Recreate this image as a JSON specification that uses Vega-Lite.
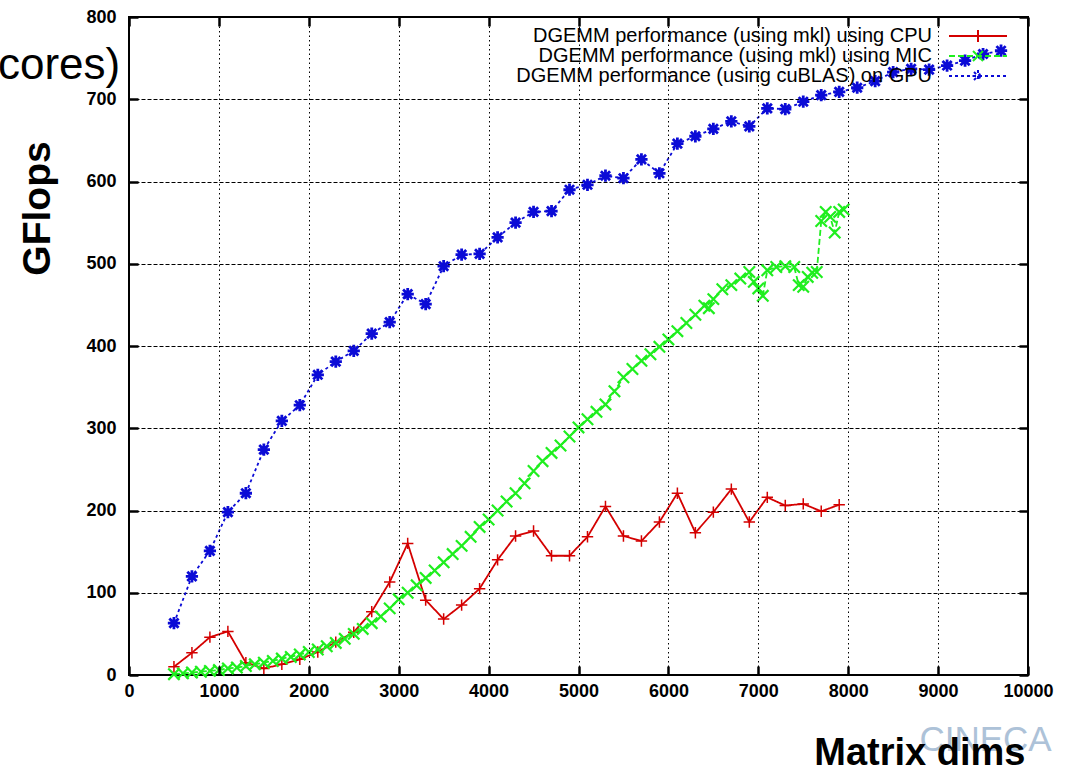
{
  "$schema": "https://vega.github.io/schema/vega-lite/v6.json",
  "width": 899,
  "height": 658,
  "autosize": {"type": "none"},
  "padding": {"left": 129, "top": 17, "right": 38, "bottom": 103},
  "background": "white",
  "title": {"text": "cores)", "anchor": "start", "frame": "group", "orient": "top", "offset": 0, "dx": -131, "dy": 115, "baseline": "alphabetic", "font": "Liberation Sans", "fontSize": 44, "fontWeight": "normal", "color": "black"},
  "config": {
    "view": {"stroke": "black", "strokeWidth": 2},
    "font": "Liberation Sans",
    "legend": {"orient": "none", "legendX": 839, "legendY": 9, "direction": "vertical", "padding": 0, "rowPadding": 0, "labelAlign": "right", "labelOffset": -56, "labelFont": "Liberation Sans", "labelFontSize": 20, "labelColor": "black", "labelLimit": 600, "symbolSize": 100, "symbolStrokeWidth": 2, "symbolOpacity": 1, "symbolFillColor": "transparent"}
  },
  "data": {"values": [
    {"s":"CPU","x":500,"y":10},{"s":"CPU","x":700,"y":27},{"s":"CPU","x":900,"y":46},{"s":"CPU","x":1100,"y":53},{"s":"CPU","x":1300,"y":15},{"s":"CPU","x":1500,"y":8},{"s":"CPU","x":1700,"y":13},{"s":"CPU","x":1900,"y":19},{"s":"CPU","x":2100,"y":28},{"s":"CPU","x":2300,"y":40},{"s":"CPU","x":2500,"y":52},{"s":"CPU","x":2700,"y":77},{"s":"CPU","x":2900,"y":113},{"s":"CPU","x":3100,"y":160},{"s":"CPU","x":3300,"y":91},{"s":"CPU","x":3500,"y":68},{"s":"CPU","x":3700,"y":85},{"s":"CPU","x":3900,"y":105},{"s":"CPU","x":4100,"y":140},{"s":"CPU","x":4300,"y":169},{"s":"CPU","x":4500,"y":175},{"s":"CPU","x":4700,"y":145},{"s":"CPU","x":4900,"y":145},{"s":"CPU","x":5100,"y":168},{"s":"CPU","x":5300,"y":205},{"s":"CPU","x":5500,"y":169},{"s":"CPU","x":5700,"y":163},{"s":"CPU","x":5900,"y":186},{"s":"CPU","x":6100,"y":221},{"s":"CPU","x":6300,"y":173},{"s":"CPU","x":6500,"y":198},{"s":"CPU","x":6700,"y":226},{"s":"CPU","x":6900,"y":186},{"s":"CPU","x":7100,"y":216},{"s":"CPU","x":7300,"y":206},{"s":"CPU","x":7500,"y":208},{"s":"CPU","x":7700,"y":199},{"s":"CPU","x":7900,"y":207},
    {"s":"GPU","x":500,"y":63},{"s":"GPU","x":700,"y":120},{"s":"GPU","x":900,"y":151},{"s":"GPU","x":1100,"y":198},{"s":"GPU","x":1300,"y":221},{"s":"GPU","x":1500,"y":274},{"s":"GPU","x":1700,"y":309},{"s":"GPU","x":1900,"y":328},{"s":"GPU","x":2100,"y":365},{"s":"GPU","x":2300,"y":381},{"s":"GPU","x":2500,"y":394},{"s":"GPU","x":2700,"y":415},{"s":"GPU","x":2900,"y":429},{"s":"GPU","x":3100,"y":463},{"s":"GPU","x":3300,"y":451},{"s":"GPU","x":3500,"y":497},{"s":"GPU","x":3700,"y":511},{"s":"GPU","x":3900,"y":512},{"s":"GPU","x":4100,"y":532},{"s":"GPU","x":4300,"y":550},{"s":"GPU","x":4500,"y":563},{"s":"GPU","x":4700,"y":564},{"s":"GPU","x":4900,"y":590},{"s":"GPU","x":5100,"y":596},{"s":"GPU","x":5300,"y":607},{"s":"GPU","x":5500,"y":604},{"s":"GPU","x":5700,"y":627},{"s":"GPU","x":5900,"y":610},{"s":"GPU","x":6100,"y":646},{"s":"GPU","x":6300,"y":655},{"s":"GPU","x":6500,"y":664},{"s":"GPU","x":6700,"y":673},{"s":"GPU","x":6900,"y":667},{"s":"GPU","x":7100,"y":689},{"s":"GPU","x":7300,"y":688},{"s":"GPU","x":7500,"y":697},{"s":"GPU","x":7700,"y":705},{"s":"GPU","x":7900,"y":709},{"s":"GPU","x":8100,"y":714},{"s":"GPU","x":8300,"y":722},{"s":"GPU","x":8500,"y":733},{"s":"GPU","x":8700,"y":737},{"s":"GPU","x":8900,"y":736},{"s":"GPU","x":9100,"y":741},{"s":"GPU","x":9300,"y":747},{"s":"GPU","x":9500,"y":755},{"s":"GPU","x":9700,"y":759},
    {"s":"MIC","x":500,"y":1},{"s":"MIC","x":600,"y":2},{"s":"MIC","x":700,"y":3},{"s":"MIC","x":800,"y":4},{"s":"MIC","x":900,"y":5},{"s":"MIC","x":1000,"y":6},{"s":"MIC","x":1100,"y":8},{"s":"MIC","x":1200,"y":9},{"s":"MIC","x":1300,"y":11},{"s":"MIC","x":1400,"y":13},{"s":"MIC","x":1500,"y":15},{"s":"MIC","x":1600,"y":17},{"s":"MIC","x":1700,"y":20},{"s":"MIC","x":1800,"y":22},{"s":"MIC","x":1900,"y":25},{"s":"MIC","x":2000,"y":28},{"s":"MIC","x":2100,"y":31},{"s":"MIC","x":2200,"y":35},{"s":"MIC","x":2300,"y":39},{"s":"MIC","x":2400,"y":44},{"s":"MIC","x":2500,"y":50},{"s":"MIC","x":2600,"y":56},{"s":"MIC","x":2700,"y":63},{"s":"MIC","x":2800,"y":71},{"s":"MIC","x":2900,"y":81},{"s":"MIC","x":3000,"y":92},{"s":"MIC","x":3100,"y":100},{"s":"MIC","x":3200,"y":109},{"s":"MIC","x":3300,"y":118},{"s":"MIC","x":3400,"y":127},{"s":"MIC","x":3500,"y":137},{"s":"MIC","x":3600,"y":147},{"s":"MIC","x":3700,"y":157},{"s":"MIC","x":3800,"y":168},{"s":"MIC","x":3900,"y":180},{"s":"MIC","x":4000,"y":189},{"s":"MIC","x":4100,"y":200},{"s":"MIC","x":4200,"y":211},{"s":"MIC","x":4300,"y":221},{"s":"MIC","x":4400,"y":233},{"s":"MIC","x":4500,"y":248},{"s":"MIC","x":4600,"y":260},{"s":"MIC","x":4700,"y":270},{"s":"MIC","x":4800,"y":279},{"s":"MIC","x":4900,"y":290},{"s":"MIC","x":5000,"y":301},{"s":"MIC","x":5100,"y":311},{"s":"MIC","x":5200,"y":320},{"s":"MIC","x":5300,"y":329},{"s":"MIC","x":5400,"y":345},{"s":"MIC","x":5500,"y":362},{"s":"MIC","x":5600,"y":372},{"s":"MIC","x":5700,"y":382},{"s":"MIC","x":5800,"y":390},{"s":"MIC","x":5900,"y":399},{"s":"MIC","x":6000,"y":408},{"s":"MIC","x":6100,"y":418},{"s":"MIC","x":6200,"y":428},{"s":"MIC","x":6300,"y":438},{"s":"MIC","x":6400,"y":449},{"s":"MIC","x":6450,"y":446},{"s":"MIC","x":6500,"y":457},{"s":"MIC","x":6600,"y":469},{"s":"MIC","x":6700,"y":474},{"s":"MIC","x":6800,"y":482},{"s":"MIC","x":6900,"y":490},{"s":"MIC","x":6950,"y":478},{"s":"MIC","x":7000,"y":470},{"s":"MIC","x":7050,"y":461},{"s":"MIC","x":7100,"y":492},{"s":"MIC","x":7200,"y":496},{"s":"MIC","x":7300,"y":497},{"s":"MIC","x":7400,"y":496},{"s":"MIC","x":7450,"y":474},{"s":"MIC","x":7500,"y":472},{"s":"MIC","x":7550,"y":484},{"s":"MIC","x":7600,"y":489},{"s":"MIC","x":7650,"y":490},{"s":"MIC","x":7700,"y":552},{"s":"MIC","x":7750,"y":563},{"s":"MIC","x":7800,"y":557},{"s":"MIC","x":7850,"y":538},{"s":"MIC","x":7900,"y":563},{"s":"MIC","x":7950,"y":566}
  ]},
  "layer": [
    {
      "mark": {"type": "line", "strokeWidth": 1.8},
      "encoding": {
        "x": {"field": "x", "type": "quantitative", "scale": {"domain": [0, 10000], "nice": false, "zero": false},
          "axis": {"orient": "bottom", "values": [0,1000,2000,3000,4000,5000,6000,7000,8000,9000,10000], "format": "d", "grid": true, "gridColor": "black", "gridDash": [1.5, 3], "gridWidth": 1, "gridOpacity": 1, "domain": false, "tickSize": -9, "tickWidth": 2.5, "tickColor": "black", "labelPadding": 16, "labelFont": "Liberation Sans", "labelFontSize": 18, "labelFontWeight": "bold", "labelColor": "black", "labelFlush": false, "labelOverlap": false, "title": "Matrix dims", "titleX": 896, "titleY": 89, "titleAlign": "right", "titleAnchor": null, "titleBaseline": "alphabetic", "titleFont": "Liberation Sans", "titleFontSize": 38, "titleFontWeight": "bold", "titleColor": "black", "zindex": 2}},
        "y": {"field": "y", "type": "quantitative", "scale": {"domain": [0, 800], "nice": false},
          "axis": {"orient": "left", "values": [0,100,200,300,400,500,600,700,800], "format": "d", "grid": true, "gridColor": "black", "gridDash": [4, 2], "gridWidth": 1, "gridOpacity": 1, "domain": false, "tickSize": -9, "tickWidth": 2.5, "tickColor": "black", "labelPadding": 22, "labelFont": "Liberation Sans", "labelFontSize": 18, "labelFontWeight": "bold", "labelColor": "black", "labelFlush": false, "labelOverlap": false, "title": "GFlops", "titleX": -80, "titleY": 191, "titleAngle": 270, "titleAlign": "center", "titleBaseline": "alphabetic", "titleFont": "Liberation Sans", "titleFontSize": 39, "titleFontWeight": "bold", "titleColor": "black"}},
        "color": {"field": "s", "type": "nominal", "scale": {"domain": ["CPU", "MIC", "GPU"], "range": ["#d40000", "#1fee1f", "#0b0bd6"]}},
        "strokeDash": {"field": "s", "type": "nominal", "scale": {"domain": ["CPU", "MIC", "GPU"], "range": [[1, 0], [6, 3], [3, 3]]}}
      }
    },
    {
      "transform": [{"filter": "datum.s == 'CPU'"}],
      "mark": {"type": "point", "filled": false, "opacity": 1, "shape": "M-1,0L1,0M0,-1L0,1", "size": 130, "strokeWidth": 1.5},
      "encoding": {
        "x": {"field": "x", "type": "quantitative",
          "axis": {"orient": "top", "values": [0,1000,2000,3000,4000,5000,6000,7000,8000,9000,10000], "grid": false, "domain": false, "labels": false, "tickSize": -9, "tickWidth": 2.5, "tickColor": "black", "title": "CINECA", "titleX": 856, "titleY": 733, "titleAlign": "center", "titleAnchor": null, "titleBaseline": "alphabetic", "titleFont": "Liberation Sans", "titleFontSize": 35, "titleFontWeight": "normal", "titleColor": "#adc2d8", "zindex": 0}},
        "y": {"field": "y", "type": "quantitative",
          "axis": {"orient": "right", "values": [0,100,200,300,400,500,600,700,800], "grid": false, "domain": false, "labels": false, "tickSize": -9, "tickWidth": 2.5, "tickColor": "black", "title": null}},
        "color": {"field": "s", "type": "nominal"}
      }
    },
    {
      "transform": [{"filter": "datum.s == 'GPU'"}],
      "mark": {"type": "point", "filled": false, "opacity": 1, "shape": "M-1,0L1,0M0,-1L0,1M-0.75,-0.75L0.75,0.75M-0.75,0.75L0.75,-0.75", "size": 150, "strokeWidth": 2.8},
      "encoding": {
        "x": {"field": "x", "type": "quantitative", "axis": null},
        "y": {"field": "y", "type": "quantitative", "axis": null},
        "color": {"field": "s", "type": "nominal"}
      }
    },
    {
      "transform": [{"filter": "datum.s == 'MIC'"}],
      "mark": {"type": "point", "filled": false, "opacity": 1, "shape": "M-1,-1L1,1M-1,1L1,-1", "size": 130, "strokeWidth": 2.2},
      "encoding": {
        "x": {"field": "x", "type": "quantitative", "axis": null},
        "y": {"field": "y", "type": "quantitative", "axis": null},
        "color": {"field": "s", "type": "nominal"}
      }
    },
    {
      "mark": {"type": "point", "filled": false, "size": 0, "opacity": 1},
      "encoding": {
        "x": {"field": "x", "type": "quantitative", "axis": null},
        "y": {"field": "y", "type": "quantitative", "axis": null},
        "color": {"field": "s", "type": "nominal", "legend": {"title": null, "labelExpr": "datum.value == 'CPU' ? 'DGEMM performance (using mkl) using CPU' : datum.value == 'MIC' ? 'DGEMM performance (using mkl) using MIC' : 'DGEMM performance (using cuBLAS) on GPU'"}},
        "shape": {"field": "s", "type": "nominal", "scale": {"domain": ["CPU", "MIC", "GPU"], "range": ["M-5.8,0L5.8,0M0,-1.2L0,1.2", "M-5.8,0L5.8,0M-1,-1L1,1M-1,1L1,-1", "M-5.8,0L5.8,0M0,-1.2L0,1.2M-1.1,0L1.1,0M-0.8,-0.8L0.8,0.8M-0.8,0.8L0.8,-0.8"]}, "legend": {"title": null, "labelExpr": "datum.value == 'CPU' ? 'DGEMM performance (using mkl) using CPU' : datum.value == 'MIC' ? 'DGEMM performance (using mkl) using MIC' : 'DGEMM performance (using cuBLAS) on GPU'"}},
        "strokeDash": {"field": "s", "type": "nominal", "legend": {"title": null, "labelExpr": "datum.value == 'CPU' ? 'DGEMM performance (using mkl) using CPU' : datum.value == 'MIC' ? 'DGEMM performance (using mkl) using MIC' : 'DGEMM performance (using cuBLAS) on GPU'"}}
      }
    }
  ],
  "resolve": {"axis": {"x": "independent", "y": "independent"}}
}
